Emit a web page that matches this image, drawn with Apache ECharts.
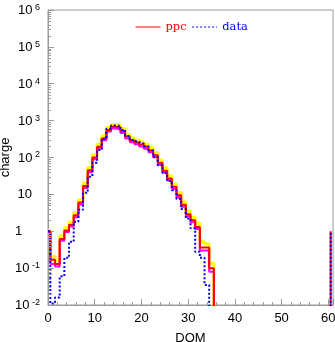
<!DOCTYPE html>
<html><head><meta charset="utf-8">
<script src="https://cdn.jsdelivr.net/npm/echarts@6/dist/echarts.min.js"></script>
<style>html,body{margin:0;padding:0;background:#fff}#c{width:335px;height:342px}</style>
</head><body><div id="c"></div>
<script>
// DOM bins (bin k spans k-0.5 .. k+0.5)
const doms = [0,1,2,3,4,5,6,7,8,9,10,11,12,13,14,15,16,17,18,19,20,21,22,23,24,25,26,27,28,29,30,31,32,33,34,35,36];
// ppc (simulation), central values
const ppc = [1,0.17,0.13,0.62,1.05,1.5,2.7,6,17,45,100,195,330,560,680,660,520,370,290,255,225,195,155,115,72,44,27,16,9.5,5.2,2.9,2.0,1.3,0.36,0.36,0.1,0];
// ppc upper band (yellow)
const ppcUpper = [1.05,0.21,0.16,0.75,1.25,1.8,3.2,7.2,20,53,118,230,390,650,790,770,610,430,340,300,265,230,183,136,85,52,32,19,11.3,6.2,3.5,2.4,1.65,0.52,0.45,0.135,0];
// ppc lower band (magenta)
const ppcLower = [0.95,0.13,0.11,0.55,0.95,1.35,2.4,5.3,15,40,90,175,295,505,610,595,465,330,260,228,200,173,138,102,64,39,24,14.2,8.4,4.6,2.55,1.75,1.15,0.3,0.3,0.08,0];
// data (measured)
const data = [1,0.011,0.016,0.06,0.19,0.52,1.8,3.8,11,30,72,160,320,600,740,730,560,385,300,265,238,203,158,105,62,38,23,13,7.5,4,2.2,1.2,0.28,0.19,0.035,0,0];
// isolated entry at DOM 60
const spikeDom = [60];
const spikePpc = [1];
const spikeData = [1];

const FLOOR = 1e-4; // stand-in for empty bins on the log axis (below the frame)
function pairs(vals){ return doms.map((d,i)=>[d, vals[i] > 0 ? vals[i] : FLOOR]); }
function spike(vals){ return [[spikeDom[0]+0.5, FLOOR],[spikeDom[0]+0.5, vals[0]]]; }

const yMinor = [];
for (let e=-2; e<6; e++) for (let m=2; m<=9; m++) yMinor.push([0, m*Math.pow(10,e)]);

const GRAY = '#9a9a9a';
const chart = echarts.init(document.getElementById('c'), null, {renderer:'canvas'});
const base = {type:'line', step:'middle', symbol:'none', silent:true, animation:false};
chart.setOption({
  animation:false,
  grid:{left:48, right:2, top:10, bottom:37, show:true, borderColor:GRAY, borderWidth:1, containLabel:false, outerBoundsMode:'none'},
  legend:{left:130, top:16, itemWidth:25, itemHeight:10, itemGap:5,
    textStyle:{fontFamily:'DejaVu Serif', fontSize:11.5},
    lineStyle:{width:1},
    itemStyle:{opacity:0},
    data:[{name:'ppc', textStyle:{color:'#ff0000'}},{name:'data', textStyle:{color:'#0000ff'}}]},
  xAxis:{type:'value', min:0, max:61, interval:10,
    axisLine:{show:true, lineStyle:{color:GRAY}},
    axisTick:{show:true, inside:true, length:6, lineStyle:{color:GRAY}},
    minorTick:{show:true, splitNumber:5, length:3, lineStyle:{color:GRAY}},
    splitLine:{show:false},
    axisLabel:{margin:7, color:'#000', fontFamily:'Liberation Sans', fontSize:13, showMaxLabel:false,
      formatter:v=> (v%10===0 ? String(v) : '')},
    name:'DOM', nameLocation:'middle', nameGap:27, nameMoveOverlap:false,
    nameTextStyle:{fontFamily:'Liberation Sans', fontSize:13, color:'#000'}},
  yAxis:{type:'log', logBase:10, min:0.01, max:1e6, splitNumber:8,
    axisLine:{show:true, lineStyle:{color:GRAY}},
    axisTick:{show:true, inside:true, length:6, lineStyle:{color:GRAY}},
    splitLine:{show:false},
    axisLabel:{margin:8, color:'#000', fontFamily:'Liberation Sans', fontSize:13,
      formatter:v=>{ const e=Math.round(Math.log10(v)); if(e===0) return '{one|1}'; if(e===1) return '{ten|10}{sp|}'; return '{b|10}{e|'+e+'}'; },
      rich:{
        b:{fontFamily:'Liberation Sans', fontSize:13, width:17, align:'left', lineHeight:14, padding:[2,0,0,0], verticalAlign:'bottom', color:'#000'},
        e:{fontFamily:'Liberation Sans', fontSize:9, lineHeight:4, verticalAlign:'top', color:'#000'},
        one:{fontFamily:'Liberation Sans', fontSize:13, width:25, align:'left', color:'#000'},
        ten:{fontFamily:'Liberation Sans', fontSize:13, color:'#000'},
        sp:{width:8}
      }},
    name:'charge', nameLocation:'middle', nameRotate:90, nameGap:36, nameMoveOverlap:false,
    nameTextStyle:{fontFamily:'Liberation Sans', fontSize:13, color:'#000'}},
  series:[
    Object.assign({}, base, {name:'ppc upper', data:pairs(ppcUpper), z:2, lineStyle:{color:'#ffff00', width:3}}),
    Object.assign({}, base, {name:'ppc lower', data:pairs(ppcLower), z:3, lineStyle:{color:'#ff00ff', width:2}}),
    Object.assign({}, base, {name:'ppc', data:pairs(ppc), z:4, lineStyle:{color:'#ff0000', width:2}, itemStyle:{color:'#ff0000'}}),
    Object.assign({}, base, {name:'data', data:pairs(data), z:5, lineStyle:{color:'#0000ff', width:2, type:[2,2]}, itemStyle:{color:'#0000ff'}}),
    {type:'line', name:'ppc', symbol:'none', silent:true, data:spike(spikePpc), z:4, lineStyle:{color:'#ff0000', width:2}},
    {type:'line', name:'data', symbol:'none', silent:true, data:spike(spikeData), z:5, lineStyle:{color:'#0000ff', width:2, type:[2,2]}},
    {type:'custom', silent:true, clip:false, data:yMinor, z:6,
      renderItem:(p,api)=>{ const pt=api.coord([0, api.value(1)]); return {type:'line', shape:{x1:pt[0], y1:Math.round(pt[1])+0.5, x2:pt[0]+3, y2:Math.round(pt[1])+0.5}, style:{stroke:GRAY, lineWidth:1}}; }}
  ]
});
</script></body></html>
